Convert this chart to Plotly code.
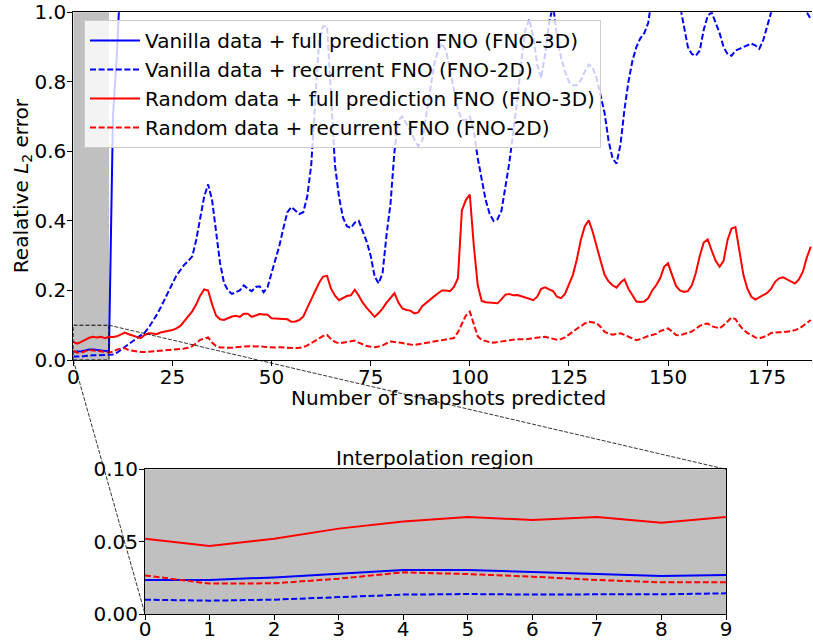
import plotly.graph_objects as go

# ---------------- data ----------------
steps = list(range(187))

vanilla_full = [
    0.0235, 0.0235, 0.0253, 0.0276, 0.0304, 0.0304, 0.0288, 0.0276, 0.0262, 0.0269,
    0.70, 0.88, 1.25, 1.48, 1.62, 1.70, 1.74, 1.79, 1.83, 1.86,
    1.90, 1.93, 1.95, 1.98, 2.02, 2.05, 2.08, 2.10, 2.13, 2.17,
    2.20, 2.24, 2.30, 2.36, 2.40, 2.37, 2.31, 2.27, 2.25, 2.24,
    2.22, 2.23, 2.25, 2.26, 2.25, 2.24, 2.26, 2.27, 2.25, 2.27,
    2.30, 2.33, 2.36, 2.40, 2.44, 2.46, 2.45, 2.44, 2.45, 2.49,
    2.55, 2.62, 2.70, 2.75, 2.76, 2.68, 2.60, 2.54, 2.50, 2.49,
    2.48, 2.50, 2.51, 2.48, 2.45, 2.41, 2.36, 2.34, 2.37, 2.45,
    2.55, 2.63, 2.68, 2.70, 2.68, 2.66, 2.64, 2.63, 2.64, 2.70,
    2.76, 2.82, 2.86, 2.88, 2.86, 2.82, 2.77, 2.73, 2.71, 2.72,
    2.74, 2.70, 2.64, 2.59, 2.55, 2.52, 2.50, 2.51, 2.53, 2.58,
    2.64, 2.70, 2.76, 2.84, 2.90, 2.93, 2.90, 2.85, 2.82, 2.86,
    2.92, 2.95, 2.90, 2.86, 2.83, 2.81, 2.80, 2.80, 2.81, 2.84,
    2.86, 2.85, 2.82, 2.78, 2.74, 2.69, 2.66, 2.65, 2.68, 2.74,
    2.80, 2.85, 2.88, 2.90, 2.92, 2.94, 2.98, 3.02, 3.05, 3.07,
    3.06, 3.04, 3.01, 2.98, 2.94, 2.90, 2.88, 2.88, 2.89, 2.93,
    2.96, 2.97, 2.95, 2.93, 2.90, 2.89, 2.88, 2.89, 2.90, 2.91,
    2.91, 2.92, 2.91, 2.90, 2.92, 2.95, 2.98, 3.01, 3.03, 3.04,
    3.04, 3.03, 3.01, 2.99, 2.98, 2.97, 2.96,
]

vanilla_rec = [
    0.0099, 0.0092, 0.0099, 0.0118, 0.0134, 0.0138, 0.0134, 0.0136, 0.0136, 0.0143,
    0.016, 0.021, 0.029, 0.038, 0.047, 0.054, 0.061, 0.069, 0.079, 0.093,
    0.110, 0.129, 0.150, 0.172, 0.196, 0.220, 0.243, 0.259, 0.274, 0.285,
    0.298, 0.345, 0.410, 0.470, 0.505, 0.460, 0.370, 0.280, 0.222, 0.200,
    0.190, 0.194, 0.200, 0.215, 0.205, 0.198, 0.210, 0.212, 0.195, 0.210,
    0.250, 0.290, 0.330, 0.380, 0.425, 0.440, 0.430, 0.420, 0.425, 0.470,
    0.560, 0.740, 0.920, 0.960, 0.960, 0.760, 0.560, 0.470, 0.410, 0.385,
    0.380, 0.395, 0.400, 0.370, 0.340, 0.300, 0.240, 0.220, 0.250, 0.360,
    0.450, 0.600, 0.690, 0.700, 0.680, 0.660, 0.635, 0.615, 0.630, 0.700,
    0.780, 0.850, 0.890, 0.910, 0.890, 0.830, 0.770, 0.720, 0.690, 0.690,
    0.700, 0.660, 0.580, 0.520, 0.460, 0.420, 0.400, 0.405, 0.430, 0.500,
    0.570, 0.660, 0.750, 0.860, 0.950, 0.980, 0.930, 0.850, 0.810, 0.880,
    0.970, 1.020, 0.930, 0.870, 0.830, 0.800, 0.790, 0.790, 0.805, 0.830,
    0.850, 0.840, 0.810, 0.760, 0.710, 0.630, 0.580, 0.565, 0.620, 0.720,
    0.800, 0.860, 0.900, 0.925, 0.940, 0.970, 1.050, 1.080, 1.120, 1.150,
    1.130, 1.100, 1.060, 1.020, 0.960, 0.900, 0.880, 0.875, 0.890, 0.950,
    0.990, 1.000, 0.970, 0.940, 0.900, 0.880, 0.875, 0.890, 0.895, 0.900,
    0.905, 0.910, 0.905, 0.895, 0.920, 0.960, 1.000, 1.040, 1.080, 1.100,
    1.100, 1.080, 1.060, 1.040, 1.020, 1.000, 0.980,
]

random_full = [
    0.052, 0.047, 0.052, 0.059, 0.064, 0.067, 0.065, 0.067, 0.063, 0.067,
    0.066, 0.068, 0.074, 0.079, 0.074, 0.070, 0.068, 0.063, 0.072, 0.077,
    0.076, 0.074, 0.079, 0.081, 0.082, 0.086, 0.091, 0.098, 0.112, 0.125,
    0.140, 0.160, 0.185, 0.203, 0.200, 0.160, 0.128, 0.117, 0.115, 0.120,
    0.125, 0.127, 0.124, 0.133, 0.133, 0.124, 0.128, 0.132, 0.131, 0.130,
    0.120, 0.119, 0.119, 0.118, 0.117, 0.110, 0.111, 0.115, 0.125, 0.150,
    0.175, 0.200, 0.222, 0.240, 0.242, 0.205, 0.185, 0.172, 0.178, 0.184,
    0.186, 0.202, 0.185, 0.165, 0.150, 0.137, 0.124, 0.135, 0.148, 0.165,
    0.180, 0.192, 0.165, 0.148, 0.144, 0.142, 0.134, 0.137, 0.155, 0.165,
    0.175, 0.183, 0.192, 0.200, 0.200, 0.198, 0.210, 0.235, 0.430, 0.460,
    0.476, 0.330, 0.215, 0.170, 0.166, 0.165, 0.164, 0.163, 0.175, 0.188,
    0.190, 0.186, 0.187, 0.184, 0.180, 0.176, 0.172, 0.182, 0.205, 0.209,
    0.203, 0.198, 0.182, 0.178, 0.190, 0.215, 0.245, 0.290, 0.345, 0.385,
    0.402, 0.368, 0.330, 0.285, 0.245, 0.226, 0.215, 0.208, 0.222, 0.232,
    0.205, 0.185, 0.168, 0.167, 0.168, 0.178, 0.200, 0.215, 0.235, 0.268,
    0.278, 0.245, 0.213, 0.200, 0.196, 0.198, 0.215, 0.250, 0.300, 0.338,
    0.347, 0.315, 0.285, 0.268, 0.285, 0.345, 0.378, 0.382, 0.310, 0.245,
    0.205, 0.182, 0.174, 0.180, 0.186, 0.193, 0.205, 0.225, 0.235, 0.238,
    0.232, 0.226, 0.220, 0.232, 0.254, 0.295, 0.326,
]

random_rec = [
    0.0267, 0.0210, 0.0212, 0.0244, 0.0288, 0.0276, 0.0258, 0.0235, 0.0219, 0.0219,
    0.024, 0.030, 0.033, 0.034, 0.028, 0.026, 0.024, 0.023, 0.023, 0.024,
    0.024, 0.025, 0.026, 0.027, 0.029, 0.030, 0.031, 0.032, 0.033, 0.035,
    0.040, 0.048, 0.058, 0.061, 0.065, 0.050, 0.040, 0.036, 0.035, 0.034,
    0.035, 0.037, 0.038, 0.039, 0.040, 0.040, 0.039, 0.040, 0.038, 0.037,
    0.037, 0.036, 0.037, 0.036, 0.035, 0.035, 0.034, 0.035, 0.037, 0.042,
    0.048, 0.055, 0.062, 0.069, 0.072, 0.060, 0.052, 0.048, 0.049, 0.052,
    0.054, 0.056, 0.050, 0.044, 0.040, 0.038, 0.037, 0.039, 0.042, 0.048,
    0.053, 0.052, 0.051, 0.049, 0.046, 0.044, 0.043, 0.045, 0.047, 0.048,
    0.050, 0.052, 0.054, 0.056, 0.057, 0.060, 0.063, 0.080, 0.105, 0.128,
    0.139, 0.100, 0.068, 0.058, 0.054, 0.051, 0.050, 0.052, 0.054, 0.056,
    0.058, 0.059, 0.060, 0.060, 0.059, 0.061, 0.063, 0.064, 0.066, 0.067,
    0.064, 0.061, 0.058, 0.060, 0.065, 0.073, 0.082, 0.090, 0.097, 0.105,
    0.110, 0.109, 0.106, 0.095, 0.081, 0.076, 0.073, 0.075, 0.077, 0.072,
    0.067, 0.062, 0.057, 0.060, 0.065, 0.069, 0.072, 0.075, 0.083, 0.088,
    0.091, 0.082, 0.072, 0.071, 0.074, 0.078, 0.082, 0.090, 0.098, 0.103,
    0.105, 0.097, 0.093, 0.091, 0.100, 0.112, 0.122, 0.118, 0.100, 0.087,
    0.078, 0.072, 0.065, 0.062, 0.065, 0.070, 0.078, 0.080, 0.080, 0.080,
    0.081, 0.083, 0.086, 0.090, 0.098, 0.107, 0.115,
]

labels = [
    "Vanilla data + full prediction FNO (FNO-3D)",
    "Vanilla data + recurrent FNO (FNO-2D)",
    "Random data + full prediction FNO (FNO-3D)",
    "Random data + recurrent FNO (FNO-2D)",
]
colors = ["blue", "blue", "red", "red"]
dashes = ["solid", "6px,2.6px", "solid", "6px,2.6px"]

interp_end = 9          # interpolation region: steps 0..9
x_range = [0, 186.3]
y_range = [0, 1.0]
inset_y_range = [0, 0.1]

main_xticks = [0, 25, 50, 75, 100, 125, 150, 175]
main_yticks = [0.0, 0.2, 0.4, 0.6, 0.8, 1.0]
inset_xticks = list(range(10))
inset_yticks = [0.0, 0.05, 0.10]

# ---------------- layout geometry ----------------
W, H = 813, 641
FONT = "DejaVu Sans"
FS = 20
main_xd = [73.3 / W, 812 / W]
main_yd = [1 - 360 / H, 1 - 12.3 / H]
ins_xd = [145 / W, 726 / W]
ins_yd = [1 - 614 / H, 1 - 469.3 / H]

series = [vanilla_full, vanilla_rec, random_full, random_rec]

fig = go.Figure()
for i, (vals, lab, col, dsh) in enumerate(zip(series, labels, colors, dashes)):
    fig.add_trace(go.Scatter(
        x=steps, y=vals, mode="lines", name=lab,
        line=dict(color=col, width=2, dash=dsh),
        xaxis="x", yaxis="y",
    ))
n0 = interp_end + 1
for vals, col, dsh in zip(series, colors, dashes):
    fig.add_trace(go.Scatter(
        x=steps[:n0], y=vals[:n0], mode="lines", showlegend=False,
        line=dict(color=col, width=2, dash=dsh),
        xaxis="x2", yaxis="y2",
    ))

axis_common = dict(
    showline=True, linecolor="black", linewidth=1, ticks="outside",
    ticklen=5, tickwidth=1, tickcolor="black", showgrid=False, zeroline=False,
    automargin=False,
    tickfont=dict(family=FONT, size=FS, color="black"),
)

fig.update_layout(
    width=W, height=H,
    margin=dict(l=0, r=0, t=0, b=0, pad=0, autoexpand=False),
    paper_bgcolor="white", plot_bgcolor="rgba(0,0,0,0)",
    font=dict(family=FONT, size=FS, color="black"),
    xaxis=dict(domain=main_xd, range=x_range, tickvals=main_xticks,
               anchor="y", mirror=True, ticklabelstandoff=-6, **axis_common),
    yaxis=dict(domain=main_yd, range=y_range, tickvals=main_yticks,
               tickformat=".1f", anchor="x", ticklabelstandoff=-3, **axis_common),
    xaxis2=dict(domain=ins_xd, range=[0, interp_end], tickvals=inset_xticks,
                anchor="y2", mirror=True, ticklabelstandoff=-8, **axis_common),
    yaxis2=dict(domain=ins_yd, range=inset_y_range, tickvals=inset_yticks,
                tickformat=".2f", anchor="x2", mirror=True, ticklabelstandoff=-3,
                **axis_common),
    legend=dict(
        x=84 / W, y=1 - 20 / H, xanchor="left", yanchor="top",
        bgcolor="rgba(255,255,255,0.8)", bordercolor="#cccccc", borderwidth=1,
        font=dict(family=FONT, size=FS, color="black"),
        itemwidth=50,
    ),
    showlegend=True,
)

# shaded interpolation region on main axes and inset background
fig.add_shape(type="rect", xref="x", yref="y domain", x0=0, x1=interp_end,
              y0=0, y1=1, fillcolor="#c0c0c0", line=dict(width=0), layer="below")
fig.add_shape(type="rect", xref="x2 domain", yref="y2 domain", x0=0, x1=1,
              y0=0, y1=1, fillcolor="#c0c0c0", line=dict(width=0), layer="below")
# zoom rectangle
fig.add_shape(type="rect", xref="x", yref="y", x0=0, x1=interp_end,
              y0=inset_y_range[0], y1=inset_y_range[1],
              line=dict(color="black", width=1, dash="4px,2px"), layer="above")

# connector lines (paper coords derived from axis domains / ranges)
def px_main(xv, yv):
    px = main_xd[0] + (xv - x_range[0]) / (x_range[1] - x_range[0]) * (main_xd[1] - main_xd[0])
    py = main_yd[0] + (yv - y_range[0]) / (y_range[1] - y_range[0]) * (main_yd[1] - main_yd[0])
    return px, py

p1 = px_main(interp_end, inset_y_range[1])
p2 = px_main(0, inset_y_range[0])
fig.add_shape(type="line", xref="paper", yref="paper", x0=p1[0], y0=p1[1],
              x1=ins_xd[1], y1=ins_yd[1],
              line=dict(color="black", width=0.8, dash="4px,1.5px"))
fig.add_shape(type="line", xref="paper", yref="paper", x0=p2[0], y0=p2[1],
              x1=ins_xd[0], y1=ins_yd[0],
              line=dict(color="black", width=0.8, dash="4px,1.5px"))

# titles
fig.add_annotation(text="Realative <i>L</i><sub>2</sub>\u00a0error", xref="paper", yref="paper",
                   x=22 / W, y=(main_yd[0] + main_yd[1]) / 2, textangle=-90,
                   showarrow=False, xanchor="center", yanchor="middle",
                   font=dict(family=FONT, size=FS, color="black"))
fig.add_annotation(text="Number of snapshots predicted", xref="paper", yref="paper",
                   x=448 / W, y=1 - 398 / H, showarrow=False,
                   xanchor="center", yanchor="middle",
                   font=dict(family=FONT, size=FS, color="black"))
fig.add_annotation(text="Interpolation region", xref="paper", yref="paper",
                   x=(ins_xd[0] + ins_xd[1]) / 2, y=1 - 458 / H, showarrow=False,
                   xanchor="center", yanchor="middle",
                   font=dict(family=FONT, size=FS, color="black"))

fig.write_html(
    "out.html",
    config={"displayModeBar": False},
    post_script="document.body.style.margin='0';document.body.style.overflow='hidden';",
)
